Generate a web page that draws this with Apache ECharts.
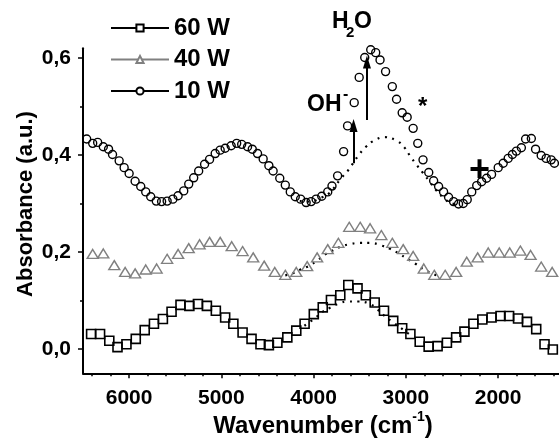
<!DOCTYPE html>
<html>
<head>
<meta charset="utf-8">
<script src="https://cdn.jsdelivr.net/npm/echarts@6/dist/echarts.min.js"></script>
<style>html,body{margin:0;padding:0;background:#fff}#main{width:559px;height:438px}</style>
</head>
<body>
<div id="main"></div>
<script>
// values: wavenumber (cm-1) / absorbance (a.u.)
var wn60 = [6412, 6315, 6215, 6126, 6029, 5928, 5831, 5731, 5634, 5540, 5443, 5347, 5254, 5157, 5060, 4959, 4870, 4770, 4673, 4576, 4485, 4393, 4285, 4188, 4098, 3998, 3901, 3812, 3711, 3624, 3524, 3434, 3338, 3237, 3137, 3040, 2951, 2850, 2753, 2656, 2555, 2455, 2365, 2268, 2171, 2071, 1974, 1881, 1784, 1687, 1587, 1497, 1407];
var abs60 = [0.031, 0.031, 0.017, 0.004, 0.010, 0.021, 0.039, 0.052, 0.062, 0.077, 0.091, 0.089, 0.093, 0.089, 0.079, 0.065, 0.052, 0.034, 0.021, 0.010, 0.008, 0.013, 0.024, 0.038, 0.052, 0.072, 0.086, 0.101, 0.111, 0.132, 0.125, 0.111, 0.096, 0.079, 0.058, 0.043, 0.031, 0.015, 0.005, 0.006, 0.013, 0.024, 0.036, 0.052, 0.061, 0.065, 0.068, 0.068, 0.063, 0.056, 0.041, 0.010, -0.001];

var wn40 = [6395, 6280, 6161, 6043, 5935, 5820, 5702, 5588, 5469, 5354, 5236, 5128, 5013, 4888, 4770, 4655, 4536, 4421, 4307, 4188, 4070, 3962, 3847, 3732, 3614, 3495, 3388, 3266, 3147, 3029, 2921, 2806, 2692, 2574, 2455, 2340, 2222, 2107, 1988, 1874, 1759, 1648, 1533, 1414];
var abs40 = [0.196, 0.197, 0.173, 0.159, 0.156, 0.164, 0.166, 0.186, 0.196, 0.208, 0.216, 0.221, 0.221, 0.212, 0.202, 0.189, 0.172, 0.159, 0.153, 0.159, 0.171, 0.189, 0.206, 0.219, 0.252, 0.252, 0.249, 0.235, 0.219, 0.206, 0.192, 0.166, 0.153, 0.153, 0.159, 0.180, 0.189, 0.199, 0.199, 0.199, 0.203, 0.194, 0.170, 0.159];

var wn10 = [6460, 6395, 6341, 6280, 6223, 6180, 6108, 6054, 6000, 5935, 5874, 5820, 5766, 5706, 5648, 5588, 5526, 5469, 5408, 5354, 5300, 5246, 5182, 5128, 5067, 5013, 4959, 4894, 4834, 4780, 4716, 4665, 4608, 4547, 4485, 4439, 4367, 4307, 4253, 4199, 4141, 4081, 4027, 3973, 3912, 3847, 3801, 3740, 3675, 3632, 3560, 3506, 3446, 3381, 3327, 3280, 3220, 3147, 3101, 3040, 2986, 2921, 2871, 2814, 2752, 2699, 2645, 2591, 2537, 2483, 2429, 2378, 2335, 2286, 2232, 2179, 2125, 2071, 1999, 1945, 1891, 1845, 1802, 1748, 1702, 1640, 1594, 1533, 1479, 1425, 1390];
var abs10 = [0.433, 0.424, 0.426, 0.417, 0.412, 0.401, 0.388, 0.374, 0.362, 0.346, 0.335, 0.324, 0.314, 0.305, 0.304, 0.305, 0.309, 0.316, 0.326, 0.340, 0.353, 0.367, 0.381, 0.391, 0.403, 0.410, 0.414, 0.419, 0.424, 0.422, 0.417, 0.412, 0.403, 0.392, 0.378, 0.367, 0.352, 0.338, 0.324, 0.314, 0.309, 0.302, 0.304, 0.309, 0.315, 0.324, 0.336, 0.357, 0.407, 0.460, 0.508, 0.560, 0.601, 0.617, 0.611, 0.596, 0.572, 0.541, 0.515, 0.487, 0.478, 0.455, 0.424, 0.390, 0.364, 0.347, 0.335, 0.324, 0.313, 0.304, 0.299, 0.300, 0.308, 0.324, 0.337, 0.345, 0.352, 0.360, 0.374, 0.383, 0.393, 0.401, 0.408, 0.415, 0.433, 0.434, 0.412, 0.399, 0.393, 0.390, 0.383];

// dotted baselines under the OH/H2O band
var baseWn10 = [4150, 4030, 3920, 3826, 3707, 3632, 3503, 3438, 3352, 3234, 3094, 3018, 2954, 2889, 2814, 2738, 2674, 2588, 2512, 2430];
var baseAbs10 = [0.305, 0.304, 0.312, 0.322, 0.351, 0.367, 0.402, 0.416, 0.429, 0.437, 0.429, 0.416, 0.398, 0.381, 0.363, 0.344, 0.328, 0.311, 0.301, 0.298];
var baseWn40 = [4307, 4242, 4152, 4055, 3962, 3883, 3794, 3697, 3614, 3506, 3388, 3273, 3166, 3075, 2994, 2907, 2806, 2706, 2620];
var baseAbs40 = [0.152, 0.155, 0.163, 0.171, 0.182, 0.194, 0.203, 0.212, 0.216, 0.219, 0.219, 0.214, 0.206, 0.197, 0.187, 0.177, 0.164, 0.155, 0.148];
var baseWn60 = [4100, 3990, 3901, 3812, 3721, 3640, 3517, 3399, 3309, 3230, 3147, 3051, 2968];
var baseAbs60 = [0.048, 0.063, 0.077, 0.086, 0.094, 0.098, 0.098, 0.094, 0.082, 0.068, 0.056, 0.043, 0.031];

var yMajor = [0, 0.2, 0.4, 0.6];
var yMinor = [0.1, 0.3, 0.5];
var xMajor = [2000, 3000, 4000, 5000, 6000];
var xMinor = [1400, 1600, 1800, 2200, 2400, 2600, 2800, 3200, 3400, 3600, 3800, 4200, 4400, 4600, 4800, 5200, 5400, 5600, 5800, 6200, 6400];

function pairs(xs, ys) {
    return xs.map(function (x, i) { return [x, ys[i]]; });
}

var font = 'Liberation Sans';
var chart = echarts.init(document.getElementById('main'));

function txt(x, y, s, size, extra) {
    var o = {
        type: 'text', x: x, y: y, silent: true,
        style: {text: s, fontSize: size, fontWeight: 'bold', fontFamily: font, fill: '#000',
                align: 'left', verticalAlign: 'middle'}
    };
    if (extra) for (var k in extra) o.style[k] = extra[k];
    return o;
}

function dotted(name, xs, ys) {
    return {
        name: name, type: 'line', data: pairs(xs, ys), symbol: 'none', smooth: 0.4,
        silent: true, z: 3,
        lineStyle: {color: '#000', width: 2.2, type: [2, 5.5]}
    };
}

var option = {
    animation: false,
    grid: {left: 83, right: -4, top: 48.3, bottom: 64.7},
    legend: {
        orient: 'vertical', left: 105, top: 11,
        itemWidth: 58, itemHeight: 9, itemGap: 7.5,
        selectedMode: false,
        data: ['60 W', '40 W', '10 W'],
        textStyle: {fontSize: 24, fontWeight: 'bold', color: '#000', fontFamily: font,
                    lineHeight: 24, padding: [0, 0, 0, 0]},
        itemStyle: {color: '#fff'},
        lineStyle: {opacity: 1, width: 2}
    },
    xAxis: [{
        type: 'value', inverse: true, min: 1340, max: 6500, position: 'bottom',
        axisLine: {onZero: false, lineStyle: {color: '#000', width: 2}},
        axisTick: {show: true, customValues: xMajor, length: 5, lineStyle: {color: '#000', width: 1.5}},
        axisLabel: {customValues: xMajor, fontSize: 21, fontWeight: 'bold', color: '#000',
                    fontFamily: font, margin: 14,
                    formatter: function (v) { return String(v); }},
        splitLine: {show: false}
    }, {
        type: 'value', inverse: true, min: 1340, max: 6500, position: 'bottom',
        axisLine: {show: false, onZero: false},
        axisTick: {show: true, customValues: xMinor, length: 3, lineStyle: {color: '#000', width: 1.5}},
        axisLabel: {show: false},
        splitLine: {show: false}
    }],
    yAxis: [{
        type: 'value', min: -0.05, max: 0.62, position: 'left',
        axisLine: {show: true, onZero: false, lineStyle: {color: '#000', width: 2}},
        axisTick: {show: true, customValues: yMajor, length: 5, lineStyle: {color: '#000', width: 1.5}},
        axisLabel: {customValues: yMajor, fontSize: 21, fontWeight: 'bold', color: '#000',
                    fontFamily: font, margin: 12,
                    formatter: function (v) { return v.toFixed(1).replace('.', ','); }},
        splitLine: {show: false}
    }, {
        type: 'value', min: -0.05, max: 0.62, position: 'left',
        axisLine: {show: false, onZero: false},
        axisTick: {show: true, customValues: yMinor, length: 3, lineStyle: {color: '#000', width: 1.5}},
        axisLabel: {show: false},
        splitLine: {show: false}
    }],
    series: [{
        name: '60 W', type: 'line', data: pairs(wn60, abs60),
        symbol: 'rect', symbolSize: 9, showAllSymbol: true,
        lineStyle: {color: '#000', opacity: 0},
        itemStyle: {color: 'rgba(255,255,255,0)', borderColor: '#000', borderWidth: 1.6}
    }, {
        name: '40 W', type: 'line', data: pairs(wn40, abs40),
        symbol: 'triangle', symbolSize: [11, 9], showAllSymbol: true,
        lineStyle: {color: '#808080', opacity: 0},
        itemStyle: {color: 'rgba(255,255,255,0)', borderColor: '#808080', borderWidth: 1.4}
    }, {
        name: '10 W', type: 'line', data: pairs(wn10, abs10),
        symbol: 'circle', symbolSize: 8, showAllSymbol: true,
        lineStyle: {color: '#000', opacity: 0},
        itemStyle: {color: 'rgba(255,255,255,0)', borderColor: '#000', borderWidth: 1.4},
        markLine: {
            silent: true, animation: false,
            symbol: ['none', 'triangle'], symbolSize: [8, 13],
            label: {show: false},
            lineStyle: {color: '#000', width: 2, type: 'solid'},
            data: [
                [{coord: [3567, 0.383]}, {coord: [3567, 0.461]}],
                [{coord: [3422, 0.472]}, {coord: [3422, 0.592]}]
            ]
        }
    },
    dotted('base 60 W', baseWn60, baseAbs60),
    dotted('base 40 W', baseWn40, baseAbs40),
    dotted('base 10 W', baseWn10, baseAbs10)
    ],
    graphic: [
        txt(332, 22, 'H', 23),
        txt(346, 33, '2', 15),
        txt(354, 22, 'O', 23),
        txt(307, 104.5, 'OH', 23),
        txt(343, 95, '-', 16),
        txt(418, 107, '*', 24),
        txt(469, 171, '+', 36),
        {
            type: 'text', x: 26, y: 204, rotation: Math.PI / 2, silent: true,
            style: {text: 'Absorbance (a.u.)', fontSize: 22, fontWeight: 'bold', fontFamily: font,
                    fill: '#000', align: 'center', verticalAlign: 'middle'}
        },
        {
            type: 'text', x: 323, y: 424.5, silent: true,
            style: {
                text: '{m|Wavenumber (cm}{s|-1}{m|)}', align: 'center', verticalAlign: 'middle',
                rich: {
                    m: {fontSize: 24, fontWeight: 'bold', fontFamily: font, fill: '#000',
                        lineHeight: 28, verticalAlign: 'bottom'},
                    s: {fontSize: 14, fontWeight: 'bold', fontFamily: font, fill: '#000',
                        lineHeight: 14, verticalAlign: 'top'}
                }
            }
        }
    ]
};

chart.setOption(option);
</script>
</body>
</html>
